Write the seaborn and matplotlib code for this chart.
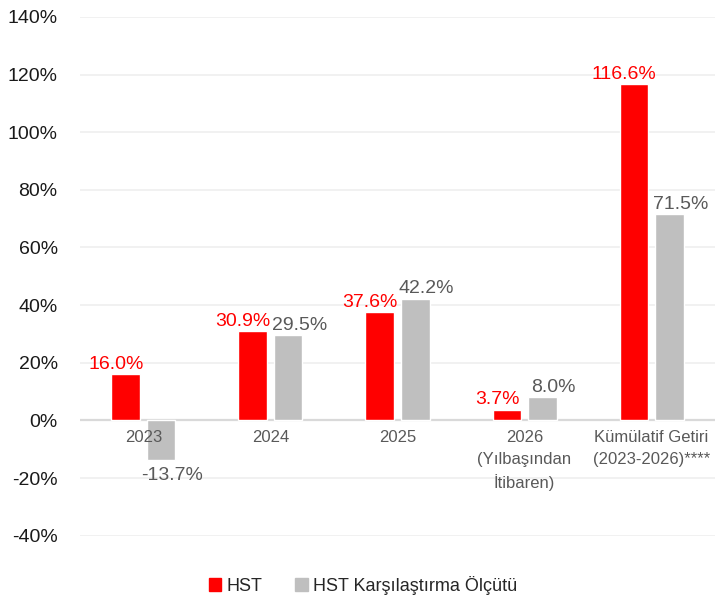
import matplotlib
matplotlib.use("Agg")
import matplotlib.pyplot as plt
import seaborn as sns
import pandas as pd
from matplotlib.patches import Patch

categories = ["2023", "2024", "2025", "2026\n(Yılbaşından\nİtibaren)", "Kümülatif Getiri\n(2023-2026)****"]
series_names = ["HST", "HST Karşılaştırma Ölçütü"]
hst = [16.0, 30.9, 37.6, 3.7, 116.6]
bench = [-13.7, 29.5, 42.2, 8.0, 71.5]
yticks = [-40, -20, 0, 20, 40, 60, 80, 100, 120, 140]

RED = "#FF0000"
GRAY = "#BFBFBF"

sns.set_theme(style="white")
plt.rcParams['font.family'] = ['Liberation Sans Narrow', 'Liberation Sans', 'DejaVu Sans']

df = pd.DataFrame({
    "cat": categories * 2,
    "series": [series_names[0]] * 5 + [series_names[1]] * 5,
    "val": hst + bench,
})

fig = plt.figure(figsize=(7.26, 6.02), dpi=100)
ax = fig.add_axes([0.110, 0.110, 0.875, 0.862])
sns.barplot(data=df, x="cat", y="val", hue="series", order=categories,
            hue_order=series_names, palette=[RED, GRAY], width=0.56, gap=0.2,
            saturation=1, legend=False, ax=ax, zorder=3)

ax.set_ylim(-40, 140)
ax.set_xlim(-0.5, 4.5)
ax.set_yticks(yticks)
ax.set_yticklabels([f"{t}%" for t in yticks], fontsize=14, color="#1a1a1a")
for t in yticks:
    ax.axhline(t, color="#D9D9D9" if t == 0 else "#EFEFEF", lw=1.6 if t == 0 else 1.2, zorder=1)
ax.set_xticks([])
ax.set_xlabel("")
ax.set_ylabel("")
for s in ax.spines.values():
    s.set_visible(False)
ax.tick_params(axis="y", length=0, pad=16)

# category labels below zero line
for i, c in enumerate(categories):
    ax.annotate(c, (i, 0), xytext=(0, -7), textcoords="offset points",
                ha="center", va="top", fontsize=12, color="#595959",
                linespacing=1.55, zorder=4)

# data labels
for cont, vals, col, dx in zip(ax.containers, [hst, bench], [RED, "#595959"], [-7, 8]):
    for bar, v in zip(cont, vals):
        x = bar.get_x() + bar.get_width() / 2
        if v >= 0:
            ax.annotate(f"{v:.1f}%", (x, v), xytext=(dx, 1), textcoords="offset points",
                        ha="center", va="bottom", fontsize=14, color=col, zorder=5)
        else:
            ax.annotate(f"{v:.1f}%", (x, v), xytext=(dx, -5), textcoords="offset points",
                        ha="center", va="top", fontsize=14, color=col, zorder=5)

handles = [Patch(color=RED, label=series_names[0]), Patch(color=GRAY, label=series_names[1])]
fig.legend(handles=handles, loc="center", bbox_to_anchor=(0.5, 0.028), ncol=2,
           frameon=False, fontsize=13, handlelength=0.7, handleheight=0.7,
           handletextpad=0.3, columnspacing=1.8)

fig.savefig("out.png", dpi=100)
